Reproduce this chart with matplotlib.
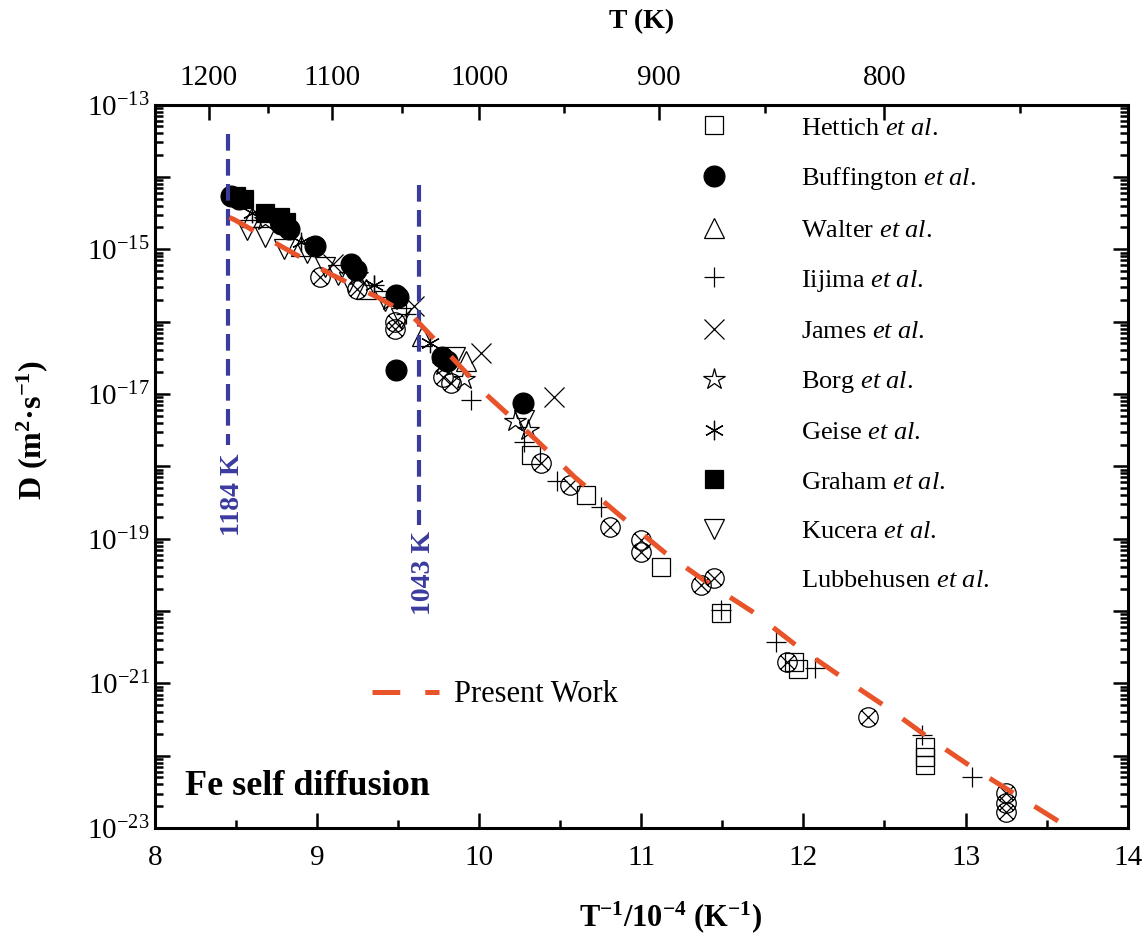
import numpy as np
import matplotlib
matplotlib.use('Agg')
import matplotlib.pyplot as plt
from matplotlib.path import Path
from matplotlib.ticker import LogLocator, FuncFormatter, MultipleLocator, NullFormatter

plt.rcParams['font.family'] = ['Liberation Serif', 'DejaVu Serif']
plt.rcParams['mathtext.fontset'] = 'custom'
plt.rcParams['mathtext.rm'] = 'Liberation Serif'
plt.rcParams['mathtext.it'] = 'Liberation Serif:italic'
plt.rcParams['mathtext.bf'] = 'Liberation Serif:bold'
plt.rcParams['lines.scale_dashes'] = False

# x values are 10^4/T (1/K), y values are log10(D / m^2 s^-1)
hettich_x = [10.32, 10.66, 11.12, 11.49, 11.94, 11.97, 12.75, 12.75, 12.75]
hettich_y = [-17.84, -18.39, -19.39, -20.03, -20.70, -20.80, -21.88, -22.02, -22.13]

buff_x = [8.47, 8.52, 8.78, 8.83, 8.99, 9.21, 9.24, 9.49, 9.50, 9.77, 9.80, 9.49, 10.27]
buff_y = [-14.27, -14.30, -14.65, -14.72, -14.96, -15.21, -15.28, -15.63, -15.66, -16.49, -16.55, -16.67, -17.12]

walter_x = [8.60, 8.90, 9.30, 9.65, 9.92]
walter_y = [-14.55, -14.95, -15.55, -16.20, -16.55]

iijima_x = [9.35, 9.55, 9.95, 10.28, 10.48, 10.75, 11.49, 11.83, 12.07, 12.73, 13.04]
iijima_y = [-15.50, -15.90, -17.08, -17.67, -18.21, -18.56, -19.98, -20.43, -20.79, -21.71, -22.29]

james_x = [9.10, 9.60, 10.01, 10.46]
james_y = [-15.20, -15.79, -16.43, -17.04]

borg_x = [8.68, 9.25, 9.45, 9.78, 9.91, 10.22, 10.30]
borg_y = [-14.60, -15.35, -15.70, -16.60, -16.80, -17.38, -17.50]

geise_x = [8.60, 8.90, 9.35, 9.70]
geise_y = [-14.50, -14.90, -15.50, -16.30]

graham_x = [8.50, 8.55, 8.68, 8.77, 8.81]
graham_y = [-14.27, -14.30, -14.50, -14.55, -14.62]

kucera_x = [8.57, 8.68, 8.80, 8.94, 9.05, 9.13, 9.20, 9.42, 9.52, 9.85, 10.28]
kucera_y = [-14.73, -14.83, -15.00, -15.05, -15.25, -15.35, -15.45, -15.72, -15.95, -16.49, -17.36]

lub_x = [9.02, 9.25, 9.48, 9.48, 9.78, 9.83, 10.38, 10.56, 10.81, 11.00, 11.00, 11.37, 11.90, 12.40, 13.25, 13.25, 13.25]
lub_y = [-15.39, -15.55, -16.00, -16.10, -16.76, -16.85, -17.95, -18.26, -18.84, -19.02, -19.18, -19.64, -20.70, -21.46, -22.52, -22.65, -22.78]

pw_x = [8.46, 8.49, 8.82, 9.09, 9.38, 9.60, 9.83, 10.06, 10.35, 10.59, 10.88, 11.15, 11.41, 11.70, 11.97, 12.26, 12.52, 12.79, 13.04, 13.64]
pw_y = [-14.56, -14.59, -15.01, -15.35, -15.67, -15.95, -16.49, -17.04, -17.63, -18.15, -18.70, -19.20, -19.61, -20.03, -20.50, -20.95, -21.34, -21.78, -22.16, -23.00]

# transition temperatures (dashed blue lines), x position and y extent in log10 D
trans_x = [8.45, 9.63]
trans_top = [-13.41, -14.11]
trans_bot = [-17.70, -18.81]
trans_txt_y = [-18.40, -19.48]
trans_labels = ['1184 K', '1043 K']

T_major = [1200, 1100, 1000, 900, 800]
T_minor = [1150, 1050, 950, 850, 750]

# circle with a cross for Lubbehusen
k = 0.7071
cross = Path([[-k, -k], [k, k], [-k, k], [k, -k]],
             [Path.MOVETO, Path.LINETO, Path.MOVETO, Path.LINETO])
lub_marker = Path.make_compound_path(Path.unit_circle(), cross)

etal = r' $\mathit{et\ al.}$'
series = [
  ('Hettich', hettich_x, hettich_y, 's', False, 13),
  ('Buffington', buff_x, buff_y, 'o', True, 15),
  ('Walter', walter_x, walter_y, '^', False, 14),
  ('Iijima', iijima_x, iijima_y, '+', False, 15),
  ('James', james_x, james_y, 'x', False, 14),
  ('Borg', borg_x, borg_y, '*', False, 16),
  ('Geise', geise_x, geise_y, (6, 2, 0), False, 14),
  ('Graham', graham_x, graham_y, 's', True, 13),
  ('Kucera', kucera_x, kucera_y, 'v', False, 14),
  ('Lubbehusen', lub_x, lub_y, lub_marker, False, 14),
]

fig = plt.figure(figsize=(11.46, 9.42), dpi=100)
ax = fig.add_axes([0.135, 0.121, 0.849, 0.768])

handles = []
for name, xs, ys, m, filled, size in series:
  h, = ax.plot(xs, 10.0 ** np.array(ys), linestyle='none', marker=m, ms=size,
               mfc='black' if filled else 'none', mec='black', mew=0.9,
               label=name + etal)
  handles.append(h)

red = '#E8532A'
pw_line, = ax.plot(pw_x, 10.0 ** np.array(pw_y), color=red, lw=3.6,
                   dashes=(20, 18), label='Present Work', zorder=3)

blue = '#3B3B9E'
for xv, yt, yb, ty, lab in zip(trans_x, trans_top, trans_bot, trans_txt_y, trans_labels):
  ax.plot([xv, xv], [10.0 ** yt, 10.0 ** yb], color=blue, lw=3, dashes=(12, 6))
  ax.text(xv + 0.03, 10.0 ** ty, lab, rotation=90, ha='center', va='center',
          color=blue, fontweight='bold', fontsize=20)

ax.text(0.031, 0.057, 'Fe self diffusion', transform=ax.transAxes,
        fontsize=26, fontweight='bold', va='center', ha='left')

ax.set_yscale('log')
ax.set_xlim(8, 14)
ax.set_ylim(1e-23, 1e-13)
ax.xaxis.set_major_locator(MultipleLocator(1))
ax.xaxis.set_minor_locator(MultipleLocator(0.5))
ax.yaxis.set_major_locator(LogLocator(base=10, numticks=20))
ax.yaxis.set_minor_locator(LogLocator(base=10, subs=np.arange(2, 10), numticks=20))
ax.yaxis.set_minor_formatter(NullFormatter())

def ylab(v, pos):
  e = int(round(np.log10(v)))
  if e % 2 == 1:
    return r'$10^{%d}$' % e
  return ''

ax.yaxis.set_major_formatter(FuncFormatter(ylab))
ax.tick_params(which='both', direction='in', left=True, right=True, top=False,
               bottom=True, width=1.8, labelsize=21)
ax.tick_params(which='major', length=11)
ax.tick_params(which='minor', length=6)
ax.tick_params(axis='x', pad=12)
for sp in ax.spines.values():
  sp.set_linewidth(2.2)

ax.set_xlabel(r'$\mathbf{T^{-1}/10^{-4}\ (K^{-1})}$', fontsize=22)
ax.xaxis.set_label_coords(0.53, -0.098)
ax.set_ylabel(r'D (m$^{\mathbf{2}}$·s$^{\mathbf{-1}}$)', fontsize=23, fontweight='bold')
ax.yaxis.set_label_coords(-0.108, 0.55)

ax2 = ax.twiny()
ax2.set_xlim(8, 14)
ax2.set_xticks([1e4 / t for t in T_major])
ax2.set_xticklabels([str(t) for t in T_major])
ax2.set_xticks([1e4 / t for t in T_minor], minor=True)
ax2.tick_params(which='both', direction='in', width=1.8, labelsize=21, pad=10)
ax2.tick_params(which='major', length=11)
ax2.tick_params(which='minor', length=6)
ax2.set_xlabel('T (K)', fontsize=20, fontweight='bold', labelpad=26)

leg1 = ax.legend(handles=handles, loc='upper left', bbox_to_anchor=(0.548, 0.984),
                 frameon=False, fontsize=19, handlelength=2, handletextpad=2.3,
                 labelspacing=0.98, borderaxespad=0, borderpad=0)
ax.add_artist(leg1)
ax.legend(handles=[pw_line], loc='center left',
          bbox_to_anchor=((372 - 155) / 973, (828 - 695) / 723),
          frameon=False, fontsize=22, handlelength=2.2, handletextpad=0.5,
          borderpad=0, borderaxespad=0)

fig.savefig('out.png', dpi=100)
